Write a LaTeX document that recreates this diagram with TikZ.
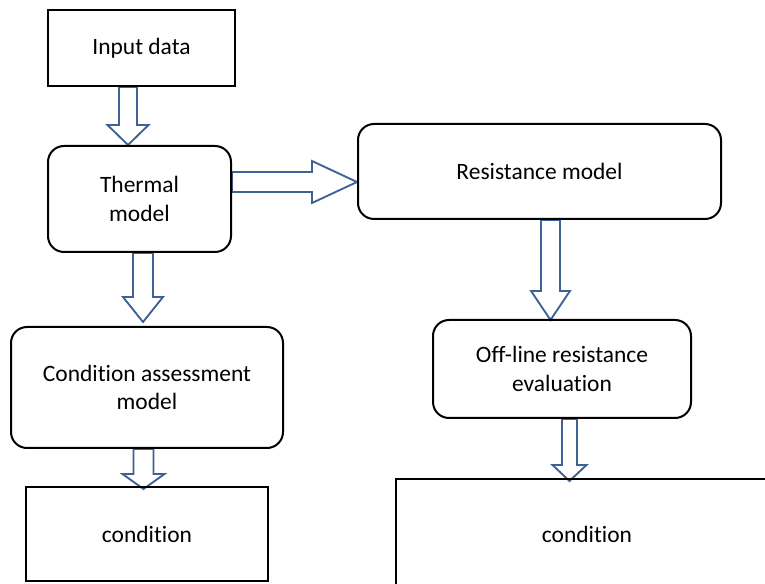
\documentclass[tikz,border=0pt]{standalone}
\usepackage{fontspec}
\setmainfont[Ligatures=NoCommon]{Carlito}
\usetikzlibrary{calc,backgrounds}
\definecolor{arrowblue}{RGB}{62,98,148}
% Hollow block arrows: start point, tip, shaft half width, head half width, head length (pt)
\newcommand\blkdown[5]{%
  \draw[blkarrow] let \p1=(#1), \p2=(#2) in
    (\x1-#3,\y1) -- (\x1-#3,\y2+#5) -- (\x1-#4,\y2+#5) -- (\x1,\y2)
    -- (\x1+#4,\y2+#5) -- (\x1+#3,\y2+#5) -- (\x1+#3,\y1) -- cycle;}
\newcommand\blkright[5]{%
  \draw[blkarrow] let \p1=(#1), \p2=(#2) in
    (\x1,\y1+#3) -- (\x2-#5,\y1+#3) -- (\x2-#5,\y1+#4) -- (\x2,\y1)
    -- (\x2-#5,\y1-#4) -- (\x2-#5,\y1-#3) -- (\x1,\y1-#3) -- cycle;}
\begin{document}
\begin{tikzpicture}[x=0.75pt,y=-0.75pt,
  box/.style={draw=black,line width=1.5pt,inner sep=0pt,align=center,
    font=\fontsize{17.6pt}{21.5pt}\selectfont},
  roundbox/.style={box,rounded corners=12pt},
  blkarrow/.style={draw=arrowblue,fill=white,line width=1.4pt,line join=miter}]
\clip (0,0) rectangle (765,584);

% blocks
\node[box,minimum width=140.25pt,minimum height=57pt] (input) at (141.5,48) {Input data};
\node[roundbox,minimum width=137.25pt,minimum height=79.5pt] (thermal) at (139.5,199) {Thermal\\model};
\node[roundbox,minimum width=272.25pt,minimum height=71.25pt] (resist) at (539.5,171.5) {Resistance model};
\node[roundbox,minimum width=204pt,minimum height=90.75pt] (assess) at (147,387.5) {Condition assessment\\model};
\node[box,minimum width=181.5pt,minimum height=70.5pt] (cond1) at (147,534) {condition};
\node[roundbox,minimum width=193.5pt,minimum height=73.5pt] (offline) at (562,369) {Off-line resistance\\evaluation};
\node[box,minimum width=286.5pt,minimum height=82.5pt] (cond2) at (587,534) {condition};

% anchor points of the block arrows
\path (input.south) ++(-13.5,0) coordinate (a1s);
\path (thermal.east) ++(0,-17) coordinate (a2s);
\path (thermal.south) ++(3.5,0) coordinate (a3s);
\path (assess.south) ++(-3.5,0) coordinate (a4s);
\path (resist.south) ++(11,0) coordinate (a5s);
\path (offline.south) ++(7.5,0) coordinate (a6s);
\coordinate (a1e) at (a1s |- thermal.north);
\coordinate (a2e) at (a2s -| resist.west);
\coordinate (a3e) at ($(a3s |- assess.north)+(0,-4)$);
\coordinate (a4e) at ($(a4s |- cond1.north)+(0,3)$);
\coordinate (a5e) at ($(a5s |- offline.north)+(0,1)$);
\coordinate (a6e) at ($(a6s |- cond2.north)+(0,3)$);

\begin{scope}[on background layer]
  \fill[white] (0,0) rectangle (765,584);
  \blkdown{a1s}{a1e}{6.75pt}{15.4pt}{15pt}
  \blkright{a2s}{a2e}{7.5pt}{15.75pt}{33.75pt}
  \blkdown{a3s}{a3e}{7.5pt}{15pt}{18.75pt}
  \blkdown{a4s}{a4e}{7.5pt}{15.75pt}{11.25pt}
  \blkdown{a5s}{a5e}{7.1pt}{14.6pt}{21.75pt}
  \blkdown{a6s}{a6e}{5.6pt}{12.75pt}{12pt}
\end{scope}
\end{tikzpicture}
\end{document}
